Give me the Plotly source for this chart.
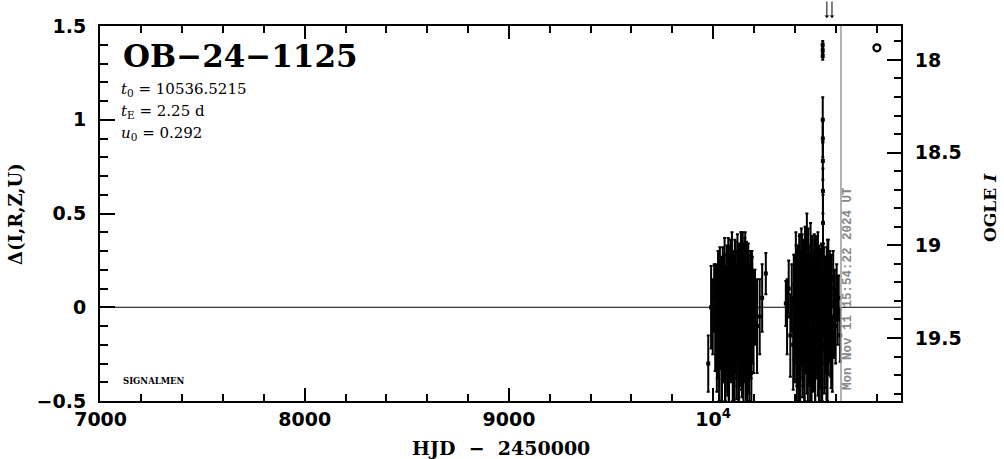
import plotly.graph_objects as go

# ---------------- data ----------------
event_name = "OB−24−1125"
t0_text = "10536.5215"
tE_text = "2.25 d"
u0_text = "0.292"
stamp_text = "Mon Nov 11 15:54:22 2024 UT"
stamp_hjd = 10626.16
arrow_hjd = [10557, 10582]

x_tickvals = [7000, 8000, 9000, 10000]
x_ticktext = ["7000", "8000", "9000", "10<sup>4</sup>"]

c1_hjd = [9976, 9990, 9998, 10005, 10010, 10014, 10018, 10022, 10025, 10028,
          10031, 10034, 10037, 10040, 10043, 10046, 10049, 10052, 10055, 10058,
          10061, 10064, 10067, 10070, 10073, 10076, 10079, 10082, 10085, 10088,
          10091, 10094, 10097, 10100, 10103, 10106, 10109, 10112, 10115, 10118,
          10121, 10124, 10127, 10130, 10133, 10136, 10139, 10142, 10145, 10148,
          10151, 10154, 10157, 10160, 10163, 10166, 10169, 10172, 10175, 10178,
          10181, 10184, 10187, 10192, 10198, 10205, 10215, 10228, 10240, 10258]
c1_delta = [-0.30, 0.00, -0.05, 0.05, -0.12, 0.08, -0.20, 0.02, -0.15, 0.10,
            -0.25, 0.04, -0.08, 0.12, -0.30, 0.00, -0.18, 0.15, -0.05, -0.28,
            0.06, -0.12, 0.18, -0.22, 0.02, -0.35, 0.10, -0.08, 0.20, -0.15,
            -0.02, 0.14, -0.30, 0.05, -0.18, 0.22, -0.10, 0.00, -0.25, 0.12,
            -0.05, 0.18, -0.32, 0.08, -0.12, 0.25, -0.20, 0.03, 0.20, -0.28,
            0.10, -0.15, 0.22, -0.05, 0.15, -0.30, 0.05, 0.18, -0.22, 0.00,
            -0.12, 0.12, -0.35, 0.05, -0.10, 0.00, -0.10, -0.05, 0.05, 0.18]
c1_err = [0.15, 0.22, 0.20, 0.18, 0.22, 0.15, 0.25, 0.20, 0.22, 0.15,
          0.25, 0.18, 0.22, 0.15, 0.25, 0.20, 0.22, 0.14, 0.25, 0.22,
          0.16, 0.24, 0.15, 0.25, 0.20, 0.22, 0.18, 0.25, 0.16, 0.24,
          0.20, 0.16, 0.25, 0.20, 0.24, 0.14, 0.25, 0.22, 0.24, 0.18,
          0.24, 0.16, 0.22, 0.20, 0.25, 0.15, 0.24, 0.22, 0.20, 0.25,
          0.18, 0.25, 0.18, 0.24, 0.20, 0.22, 0.25, 0.16, 0.24, 0.22,
          0.25, 0.18, 0.20, 0.22, 0.25, 0.20, 0.25, 0.20, 0.18, 0.11]

c1b_hjd = [10020, 10024, 10029, 10033, 10038, 10042, 10047, 10051, 10056, 10060,
           10065, 10069, 10074, 10078, 10083, 10087, 10092, 10096, 10101, 10105,
           10110, 10114, 10119, 10123, 10128, 10132, 10137, 10141, 10146, 10150,
           10155, 10159, 10164, 10168, 10173, 10177, 10182, 10186, 10190, 10195]
c1b_delta = [-0.10, 0.05, -0.20, 0.10, -0.05, -0.22, 0.08, -0.12, 0.15, -0.30,
             0.00, -0.15, 0.12, -0.25, 0.05, -0.10, 0.18, -0.20, 0.02, -0.28,
             0.10, -0.08, 0.15, -0.22, 0.05, -0.12, 0.20, -0.18, 0.08, -0.05,
             0.15, -0.25, 0.10, -0.15, 0.05, -0.20, 0.02, -0.10, 0.08, -0.05]
c1b_err = [0.28, 0.25, 0.30, 0.22, 0.28, 0.30, 0.24, 0.28, 0.22, 0.30,
           0.28, 0.30, 0.25, 0.30, 0.28, 0.30, 0.22, 0.30, 0.28, 0.30,
           0.25, 0.30, 0.24, 0.30, 0.28, 0.30, 0.20, 0.30, 0.26, 0.28,
           0.22, 0.30, 0.24, 0.28, 0.25, 0.30, 0.26, 0.28, 0.22, 0.25]

c2_hjd = [10356, 10362, 10370, 10378, 10385, 10392, 10398, 10402, 10406, 10410,
          10414, 10418, 10422, 10426, 10430, 10433, 10436, 10439, 10442, 10445,
          10448, 10451, 10454, 10457, 10460, 10463, 10466, 10469, 10472, 10475,
          10478, 10481, 10484, 10487, 10490, 10493, 10496, 10499, 10502, 10505,
          10508, 10511, 10514, 10517, 10520, 10523, 10526, 10529, 10532, 10535,
          10540, 10544, 10548, 10552, 10556, 10560, 10564, 10568, 10572, 10576,
          10580, 10584, 10588, 10592, 10596, 10600, 10605, 10610, 10615, 10622]
c2_delta = [0.02, -0.05, 0.10, -0.15, 0.05, -0.20, 0.12, -0.08, 0.18, -0.25,
            0.05, -0.12, 0.22, -0.30, 0.08, -0.05, 0.25, -0.18, 0.00, 0.15,
            -0.28, 0.10, -0.10, 0.20, -0.22, 0.05, 0.28, -0.15, 0.02, -0.32,
            0.15, -0.05, 0.22, -0.20, 0.08, -0.12, 0.18, -0.35, 0.05, 0.12,
            -0.10, 0.20, -0.25, 0.02, 0.15, -0.18, 0.08, -0.30, 0.10, -0.05,
            0.18, -0.22, 0.05, -0.10, 0.12, -0.28, 0.20, -0.05, 0.08, -0.15,
            0.10, -0.25, 0.15, -0.05, 0.02, -0.10, 0.08, -0.02, 0.05, -0.15]
c2_err = [0.12, 0.20, 0.15, 0.22, 0.18, 0.24, 0.16, 0.22, 0.15, 0.25,
          0.20, 0.24, 0.16, 0.22, 0.22, 0.25, 0.14, 0.24, 0.22, 0.18,
          0.22, 0.20, 0.25, 0.16, 0.24, 0.22, 0.14, 0.25, 0.22, 0.20,
          0.18, 0.25, 0.16, 0.24, 0.22, 0.25, 0.18, 0.20, 0.24, 0.18,
          0.25, 0.18, 0.22, 0.24, 0.18, 0.25, 0.22, 0.20, 0.20, 0.25,
          0.16, 0.24, 0.22, 0.25, 0.20, 0.22, 0.16, 0.24, 0.22, 0.22,
          0.18, 0.20, 0.15, 0.22, 0.18, 0.20, 0.15, 0.18, 0.12, 0.14]

c2b_hjd = [10395, 10400, 10405, 10410, 10415, 10420, 10424, 10428, 10432, 10437,
           10441, 10446, 10450, 10455, 10459, 10464, 10468, 10473, 10477, 10482,
           10486, 10491, 10495, 10500, 10504, 10509, 10513, 10518, 10522, 10527,
           10531, 10534, 10542, 10546, 10550, 10555, 10560, 10566, 10572, 10578]
c2b_delta = [0.00, -0.15, 0.10, -0.20, 0.05, -0.25, 0.15, -0.10, 0.20, -0.18,
             0.08, -0.28, 0.18, -0.05, 0.22, -0.20, 0.10, -0.12, 0.25, -0.25,
             0.05, -0.15, 0.15, -0.30, 0.10, -0.08, 0.18, -0.22, 0.05, -0.12,
             0.12, -0.20, 0.08, -0.15, 0.02, -0.25, 0.10, -0.08, 0.05, -0.18]
c2b_err = [0.28, 0.25, 0.30, 0.22, 0.28, 0.30, 0.24, 0.28, 0.22, 0.30,
           0.28, 0.30, 0.25, 0.30, 0.28, 0.30, 0.22, 0.30, 0.20, 0.30,
           0.25, 0.30, 0.24, 0.30, 0.28, 0.30, 0.22, 0.30, 0.26, 0.28,
           0.22, 0.30, 0.24, 0.28, 0.25, 0.30, 0.26, 0.28, 0.22, 0.25]

peak_hjd = [10536.5, 10536.5, 10536.6, 10536.7, 10537.0, 10537.2, 10537.5, 10538.0]
peak_delta = [1.40, 1.37, 1.34, 1.00, 0.90, 0.78, 0.62, 0.45]
peak_err = [0.02, 0.02, 0.02, 0.12, 0.10, 0.10, 0.12, 0.15]

base_hjd = [10802]
base_mag = [17.935]

# ---------------- geometry helpers ----------------
W, H = 1004, 459
L, R, T, B = 100, 901, 26, 401


def px(x):
    return (x - L) / (R - L)


def py(y):
    return 1 - (y - T) / (B - T)


fig = go.Figure()

err_style = dict(type="data", visible=True, color="black", thickness=2, width=1.5)

for xs, ys, es in [(c1_hjd, c1_delta, c1_err), (c1b_hjd, c1b_delta, c1b_err),
                   (c2_hjd, c2_delta, c2_err), (c2b_hjd, c2b_delta, c2b_err),
                   (peak_hjd, peak_delta, peak_err)]:
    fig.add_trace(go.Scatter(
        x=xs, y=ys, mode="markers",
        marker=dict(color="black", size=4, symbol="square"),
        error_y=dict(array=es, **err_style),
        showlegend=False, cliponaxis=True))

fig.add_trace(go.Scatter(
    x=base_hjd, y=base_mag, mode="markers", yaxis="y2",
    marker=dict(symbol="circle-open", size=7, color="black", line=dict(width=2.2)),
    showlegend=False))

# invisible trace for top axis
fig.add_trace(go.Scatter(x=[7000], y=[0], xaxis="x2", mode="markers",
                         marker=dict(opacity=0), showlegend=False, hoverinfo="skip"))

tickfont = dict(family="DejaVu Sans", size=19, color="black", weight="bold")
xr = [6997, 10920]

fig.update_layout(
    width=W, height=H,
    margin=dict(l=L, r=W - R, t=T, b=H - B, pad=0),
    paper_bgcolor="white", plot_bgcolor="white",
    xaxis=dict(range=xr, showgrid=False, zeroline=False, showline=True,
               linecolor="black", linewidth=2, mirror=False,
               ticks="inside", ticklen=13, tickwidth=2, tickcolor="black",
               tickvals=x_tickvals, ticktext=x_ticktext, tickfont=tickfont,
               minor=dict(dtick=200, tick0=7000, ticks="inside", ticklen=7,
                          tickwidth=2, tickcolor="black", showgrid=False)),
    xaxis2=dict(range=xr, overlaying="x", side="top", showgrid=False,
                zeroline=False, showline=True, linecolor="black", linewidth=2,
                ticks="inside", ticklen=13, tickwidth=2, tickcolor="black",
                tickvals=x_tickvals, showticklabels=False,
                minor=dict(dtick=200, tick0=7000, ticks="inside", ticklen=7,
                           tickwidth=2, tickcolor="black", showgrid=False)),
    yaxis=dict(range=[-0.5, 1.5], showgrid=False, zeroline=False, showline=True,
               linecolor="black", linewidth=2, ticks="inside", ticklen=15,
               tickwidth=2, tickcolor="black", dtick=0.5, tick0=0,
               tickfont=tickfont, ticklabelstandoff=8,
               minor=dict(dtick=0.1, ticks="inside", ticklen=8, tickwidth=2,
                          tickcolor="black", showgrid=False)),
    yaxis2=dict(range=[19.84, 17.817], overlaying="y", side="right",
                showgrid=False, zeroline=False, showline=True, linecolor="black",
                linewidth=2, ticks="inside", ticklen=14, tickwidth=2,
                tickcolor="black", dtick=0.5, tick0=18, tickfont=tickfont,
                ticklabelstandoff=8,
                minor=dict(dtick=0.1, tick0=18, ticks="inside", ticklen=7,
                           tickwidth=2, tickcolor="black", showgrid=False)),
)

# zero line and time stamp line
fig.add_shape(type="line", xref="paper", yref="y", x0=0, x1=1, y0=0, y1=0,
              line=dict(color="black", width=1))
fig.add_shape(type="line", xref="x", yref="paper", x0=stamp_hjd, x1=stamp_hjd,
              y0=0, y1=1, line=dict(color="#999999", width=1.5))

serif = "DejaVu Serif"
ann = []
ann.append(dict(text=event_name, x=px(121), y=py(56), xref="paper", yref="paper",
                xanchor="left", yanchor="middle", showarrow=False,
                font=dict(family=serif, size=31, color="black", weight="bold")))
for i, (sym, sub, val) in enumerate([("t", "0", t0_text), ("t", "E", tE_text),
                                     ("u", "0", u0_text)]):
    ann.append(dict(text=f"<i>{sym}</i><sub>{sub}</sub> = {val}",
                    x=px(119), y=py(89 + 22 * i), xref="paper", yref="paper",
                    xanchor="left", yanchor="middle", showarrow=False,
                    font=dict(family=serif, size=15, color="black")))
ann.append(dict(text="SIGNALMEN", x=px(121), y=py(381), xref="paper", yref="paper",
                xanchor="left", yanchor="middle", showarrow=False,
                font=dict(family=serif, size=8.5, color="black", weight="bold")))
ann.append(dict(text="Δ(I,R,Z,U)", x=px(15), y=py(214), xref="paper", yref="paper",
                xanchor="center", yanchor="middle", showarrow=False, textangle=-90,
                font=dict(family=serif, size=18, color="black", weight="bold")))
ann.append(dict(text="OGLE <i>I</i>", x=px(990), y=py(208), xref="paper", yref="paper",
                xanchor="center", yanchor="middle", showarrow=False, textangle=-90,
                font=dict(family=serif, size=17, color="black", weight="bold")))
ann.append(dict(text="HJD  −  2450000", x=px(501), y=py(448), xref="paper", yref="paper",
                xanchor="center", yanchor="middle", showarrow=False,
                font=dict(family=serif, size=19, color="black", weight="bold")))
ann.append(dict(text=stamp_text, x=px(848), y=py(289), xref="paper", yref="paper",
                xanchor="center", yanchor="middle", showarrow=False, textangle=-90,
                font=dict(family="Liberation Mono", size=12.5, color="#888888",
                          weight="bold")))
for ah in arrow_hjd:
    ann.append(dict(text="", x=ah, y=py(18), xref="x", yref="paper",
                    ax=0, ay=-18, axref="pixel", ayref="pixel", showarrow=True,
                    arrowhead=1, arrowsize=0.8, arrowwidth=1, arrowcolor="black"))
fig.update_layout(annotations=ann)

fig.write_html("out.html",
               config={"displayModeBar": False},
               post_script="document.body.style.margin='0px';"
                           "document.body.style.overflow='hidden';")
